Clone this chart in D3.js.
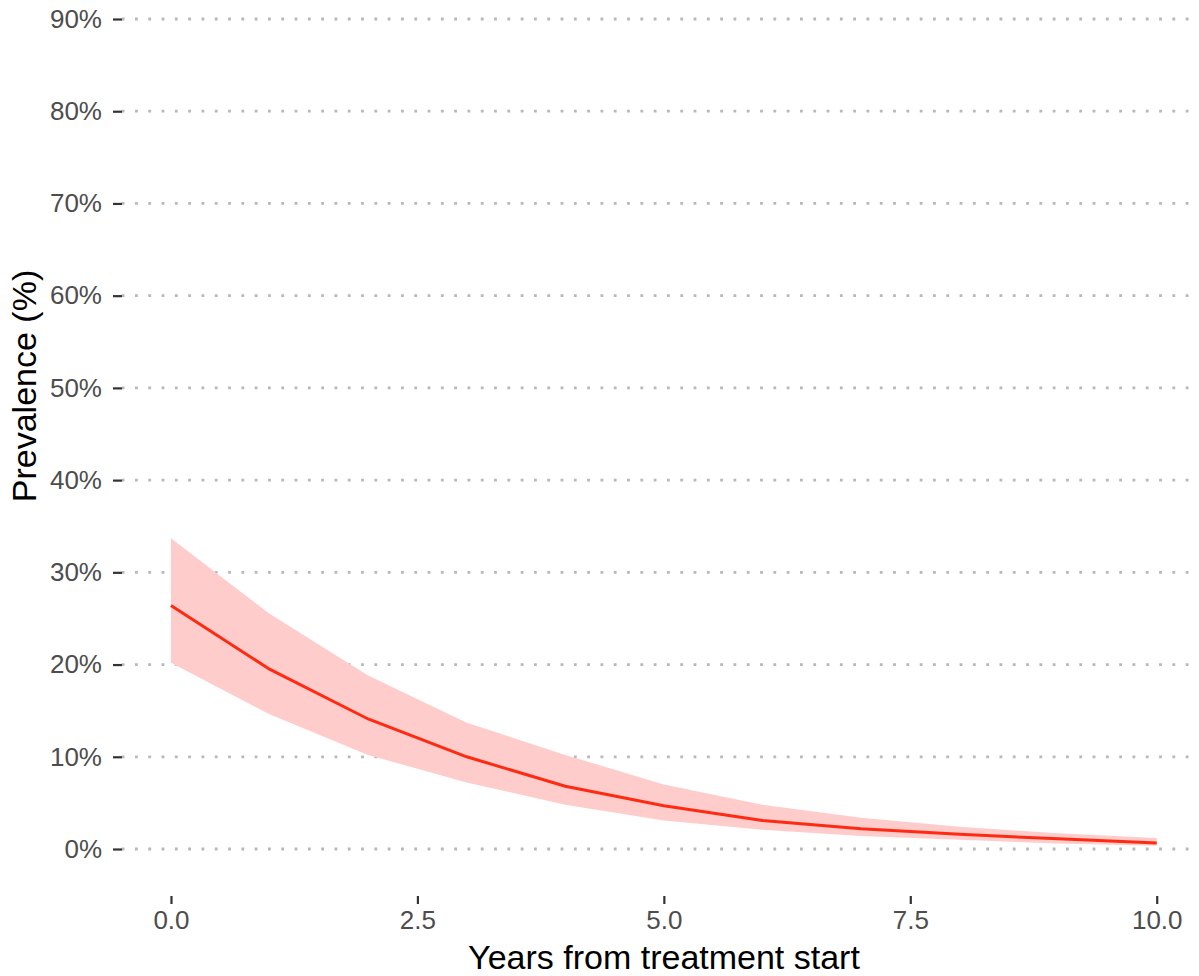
<!DOCTYPE html>
<html>
<head>
<meta charset="utf-8">
<script src="https://cdn.jsdelivr.net/npm/d3@7"></script>
<style>
  body { margin: 0; background: #fff; }
  svg { display: block; font-family: "Liberation Sans", Arial, sans-serif; }
</style>
</head>
<body>
<div id="graph"></div>
<script>
// Prevalence after treatment start, with confidence band
var years = [0, 1, 2, 3, 4, 5, 6, 7, 8, 9, 10];
var prevalence = [26.4, 19.5, 14.1, 10.0, 6.8, 4.7, 3.1, 2.2, 1.6, 1.1, 0.65];
var upperCI = [33.7, 25.5, 18.8, 13.7, 10.2, 7.0, 4.8, 3.4, 2.4, 1.7, 1.2];
var lowerCI = [20.2, 14.6, 10.2, 7.2, 4.8, 3.1, 2.1, 1.4, 1.0, 0.6, 0.35];
var xTicks = [0, 2.5, 5, 7.5, 10];
var yTicks = [0, 10, 20, 30, 40, 50, 60, 70, 80, 90];

const WIDTH = 1199;
const HEIGHT = 976;

// panel edges (ggplot-style 5% expansion around data range)
var x = d3.scaleLinear().domain([-0.5, 10.5]).range([121.7, 1206]);
var y = d3.scaleLinear().domain([-4.5, 94.5]).range([890.5, -22.5]);

var data = years.map(function (d, i) {
  return { year: d, p: prevalence[i], lo: lowerCI[i], hi: upperCI[i] };
});

var svg = d3.select("#graph")
  .append("svg")
  .attr("width", WIDTH)
  .attr("height", HEIGHT);

// gridlines (dotted)
svg.append("g")
  .selectAll("line")
  .data(yTicks)
  .enter().append("line")
  .attr("x1", x.range()[0])
  .attr("x2", x.range()[1])
  .attr("y1", function (d) { return y(d); })
  .attr("y2", function (d) { return y(d); })
  .attr("stroke", "#b8b8b8")
  .attr("stroke-width", 2.8)
  .attr("stroke-dasharray", "2.8,10.5");

// confidence band
var band = d3.area()
  .x(function (d) { return x(d.year); })
  .y0(function (d) { return y(d.lo); })
  .y1(function (d) { return y(d.hi); });

svg.append("path")
  .attr("d", band(data))
  .attr("fill", "#ffcccc");

// prevalence line
var valueline = d3.line()
  .x(function (d) { return x(d.year); })
  .y(function (d) { return y(d.p); });

svg.append("path")
  .attr("d", valueline(data))
  .attr("fill", "none")
  .attr("stroke", "#ff2a12")
  .attr("stroke-width", 3);

// Y axis
var yAxis = d3.axisLeft(y)
  .tickValues(yTicks)
  .tickSize(9)
  .tickPadding(11)
  .tickFormat(function (d) { return d + "%"; });

var gy = svg.append("g")
  .attr("transform", "translate(122,0)")
  .call(yAxis);
gy.select(".domain").remove();
gy.selectAll(".tick line").attr("stroke", "#333").attr("stroke-width", 2.2);
gy.selectAll(".tick text")
  .attr("fill", "#4d4d4d")
  .style("font-size", "26px");

// X axis
var xAxis = d3.axisBottom(x)
  .tickValues(xTicks)
  .tickSize(8)
  .tickPadding(7)
  .tickFormat(d3.format(".1f"));

var gx = svg.append("g")
  .attr("transform", "translate(0,896)")
  .call(xAxis);
gx.select(".domain").remove();
gx.selectAll(".tick line").attr("stroke", "#333").attr("stroke-width", 2.2);
gx.selectAll(".tick text")
  .attr("fill", "#4d4d4d")
  .style("font-size", "26px");

// axis titles
svg.append("text")
  .attr("x", 664)
  .attr("y", 969)
  .attr("text-anchor", "middle")
  .style("font-size", "34px")
  .attr("fill", "#000")
  .text("Years from treatment start");

svg.append("text")
  .attr("transform", "translate(36,386) rotate(-90)")
  .attr("text-anchor", "middle")
  .style("font-size", "34px")
  .attr("fill", "#000")
  .text("Prevalence (%)");
</script>
</body>
</html>
